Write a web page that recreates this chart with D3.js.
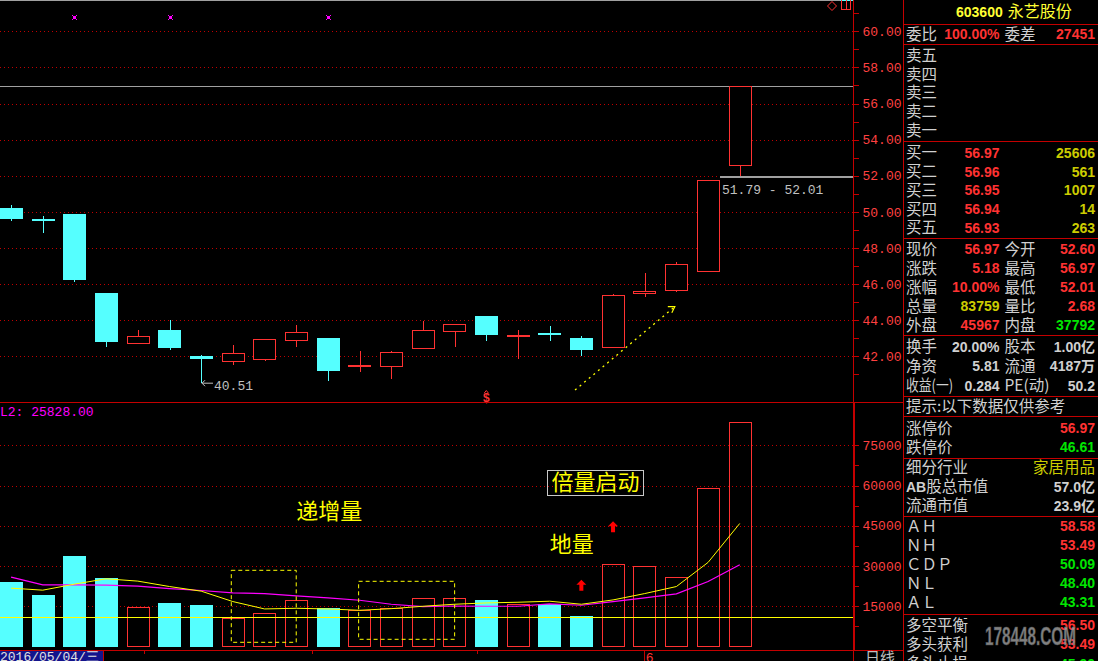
<!DOCTYPE html>
<html><head><meta charset="utf-8">
<script src="https://cdn.jsdelivr.net/npm/d3@7/dist/d3.min.js"></script>
<style>
html,body{margin:0;padding:0;background:#000;overflow:hidden}
svg{display:block}
</style></head><body>
<svg id="chart" width="1098" height="661"></svg>
<script>
// ================= DATA =================
const dates = ['2016-05-04','2016-05-05','2016-05-06','2016-05-09','2016-05-10','2016-05-11','2016-05-12','2016-05-13',
  '2016-05-16','2016-05-17','2016-05-18','2016-05-19','2016-05-20','2016-05-23','2016-05-24','2016-05-25','2016-05-26',
  '2016-05-27','2016-05-30','2016-05-31','2016-06-01','2016-06-02','2016-06-03','2016-06-06'];
const openP  = [50.21,49.58,49.88,45.50,42.75,43.46,42.02,41.76,41.87,42.92,43.01,41.46,41.48,42.48,43.42,44.23,43.16,43.30,43.01,42.50,45.49,45.65,46.71,52.60];
const highP  = [50.38,49.77,49.88,45.50,43.46,44.01,42.07,42.63,42.94,43.73,43.01,42.29,42.29,43.95,43.80,44.23,43.46,43.68,43.12,45.43,46.61,47.20,51.79,56.97];
const lowP   = [49.49,48.84,46.13,42.53,42.75,42.37,40.51,41.53,41.76,42.53,40.65,41.15,40.76,42.40,42.53,42.86,41.87,42.86,42.03,42.50,45.27,45.54,46.71,52.01];
const closeP = [49.60,49.55,46.24,42.81,43.12,42.48,41.87,42.17,42.94,43.33,41.19,41.50,42.22,43.44,43.77,43.18,43.20,43.27,42.37,45.38,45.62,47.09,51.79,56.97];
const volume = [24100,19240,33860,25610,14630,16240,15490,10730,12375,17250,14250,13730,14250,18000,18000,17360,15860,15700,11360,30750,30110,25870,59250,83759];
const volMA5  = [21750,21000,23250,25240,24375,22350,20625,16750,14000,14250,14000,13500,14100,15000,15750,16240,16500,16875,15750,17360,19730,22350,31350,45860];
const volMA10 = [25875,23000,23000,22870,22500,21600,20870,19990,19740,18860,18110,17250,15750,14870,15100,15000,15000,15860,15370,16740,18110,19610,24240,30490];
const priceTicks = [42,44,46,48,50,52,54,56,58,60];
const volTicks = [15000,30000,45000,60000,75000];
const volRefLevel = 10950;
const todayHigh = 56.97;
const gapLow = 51.79, gapHigh = 52.01;
const lowestPrice = 40.51;
const eventIdx = [2,5,10];
const dollarIdx = 15;
const monthStartIdx = 20;
const monthLabel = '6';
const dateTickPos = [4.2,9.5,14.7];
const cursorDate = '2016/05/04/三';
const mavolLabel = 'L2: 25828.00';

// quote panel
const stockTitleCode = '603600', stockTitleName = '永艺股份';
const prevClose = 51.79;
const weibi = '100.00%', weicha = '27451';
const sellLabels = ['卖五','卖四','卖三','卖二','卖一'];
const buyLabels = ['买一','买二','买三','买四','买五'];
const buyPrices = [56.97,56.96,56.95,56.94,56.93];
const buyVols = [25606,561,1007,14,263];
const quoteLabelsL = ['现价','涨跌','涨幅','总量','外盘'];
const quoteValuesL = ['56.97','5.18','10.00%','83759','45967'];
const quoteKindL   = ['up','up','up','vol','up'];
const quoteLabelsR = ['今开','最高','最低','量比','内盘'];
const quoteValuesR = ['52.60','56.97','52.01','2.68','37792'];
const quoteKindR   = ['up','up','up','up','down'];
const finLabelsL = ['换手','净资','收益(一)'];
const finValuesL = ['20.00%','5.81','0.284'];
const finLabelsR = ['股本','流通','PE(动)'];
const finValuesR = ['1.00亿','4187万','50.2'];
const tipText = '提示:以下数据仅供参考';
const limitLabels = ['涨停价','跌停价'];
const limitValues = [56.97,46.61];
const infoLabels = ['细分行业','股总市值','流通市值'];
const infoValues = ['家居用品','57.0亿','23.9亿'];
const pivotLabels = ['ＡＨ','ＮＨ','ＣＤＰ','ＮＬ','ＡＬ'];
const pivotValues = [58.58,53.49,50.09,48.40,43.31];
const balLabels = ['多空平衡','多头获利','多头止损'];
const balValues = [56.50,53.49,45.90];

// ================= DRAW =================
const RED='#ff3232', CYAN='#55ffff', AXR='#c40000', GRID='#c00000', LBL='#ff4040',
      YEL='#ffff00', MAG='#ff00ff', GRAY='#c0c0c0', WHITE='#d0d0d0', DYEL='#cccc00', GRN='#00e600';
const MONO='"Liberation Mono","DejaVu Sans Mono",monospace';
const SANS='"Liberation Sans","Noto Sans CJK SC",sans-serif';
const CJK='"Noto Sans CJK SC","Noto Sans",sans-serif';

const svg = d3.select('#chart');
svg.append('rect').attr('width',1098).attr('height',661).attr('fill','#000');
const plotR = 853, panelL = 903;

const x = d3.scaleBand().domain(dates).range([-4.74,755.6]).paddingInner(0.29).paddingOuter(0.145);
const xc = d => x(d) + x.bandwidth()/2;
const xi = d3.scaleLinear().domain([0,dates.length-1]).range([xc(dates[0]), xc(dates[dates.length-1])]);
const yP = d3.scaleLinear().domain([42,60]).range([356.3,31.3]);
const yV = d3.scaleLinear().domain([0,75000]).range([646.5,445.3]);
const bw = Math.round(x.bandwidth());
const snap = v => Math.round(v) + 0.5;

const candles = dates.map((d,i)=>({d,i,o:openP[i],h:highP[i],l:lowP[i],c:closeP[i],v:volume[i],up:closeP[i]>=openP[i]}));

// --- frame lines ---
const frame = svg.append('g').attr('shape-rendering','crispEdges');
frame.append('line').attr('x1',0).attr('x2',plotR).attr('y1',0.5).attr('y2',0.5).attr('stroke','#a0a0a0');
frame.append('line').attr('x1',840).attr('x2',plotR).attr('y1',0.5).attr('y2',0.5).attr('stroke',CYAN);

// gridlines
svg.append('g').attr('shape-rendering','crispEdges').selectAll('line').data(priceTicks).join('line')
  .attr('x1',0).attr('x2',plotR).attr('y1',d=>snap(yP(d))).attr('y2',d=>snap(yP(d)))
  .attr('stroke',GRID).attr('stroke-dasharray','1,3');
svg.append('g').attr('shape-rendering','crispEdges').selectAll('line').data(volTicks).join('line')
  .attr('x1',0).attr('x2',plotR).attr('y1',d=>snap(yV(d))).attr('y2',d=>snap(yV(d)))
  .attr('stroke',GRID).attr('stroke-dasharray','1,3');

// today high line and gap
svg.append('line').attr('x1',0).attr('x2',plotR).attr('y1',snap(yP(todayHigh))).attr('y2',snap(yP(todayHigh)))
  .attr('stroke','#a0a0a0').attr('shape-rendering','crispEdges');
const gapStart = Math.round(x(dates[22]) + bw) + 1;
svg.append('line').attr('x1',gapStart).attr('x2',plotR).attr('y1',Math.round(yP(gapHigh))+1).attr('y2',Math.round(yP(gapHigh))+1)
  .attr('stroke','#a0a0a0').attr('stroke-width',2).attr('shape-rendering','crispEdges');
svg.append('text').attr('x',gapStart+2).attr('y',yP(gapHigh)+18).attr('fill',GRAY)
  .style('font',`13px ${MONO}`).text(`${gapLow.toFixed(2)} - ${gapHigh.toFixed(2)}`);

// --- candles ---
const cg = svg.append('g').attr('shape-rendering','crispEdges');
candles.forEach(k=>{
  const col = k.up ? RED : CYAN;
  const cx = Math.round(xc(k.d)) + 0.5;
  cg.append('line').attr('x1',cx).attr('x2',cx).attr('y1',Math.round(yP(k.h))).attr('y2',Math.round(yP(k.l))).attr('stroke',col);
  const x0 = Math.round(x(k.d));
  if (k.up) {
    const yt = Math.round(yP(k.c)), yb = Math.round(yP(k.o));
    cg.append('rect').attr('x',x0+0.5).attr('y',yt+0.5).attr('width',bw).attr('height',Math.max(1,yb-yt))
      .attr('fill','#000').attr('stroke',RED).attr('stroke-width',1.2);
  } else {
    const yt = Math.round(yP(k.o)), yb = Math.round(yP(k.c));
    cg.append('rect').attr('x',x0).attr('y',yt).attr('width',bw+1).attr('height',Math.max(2,yb-yt)).attr('fill',CYAN);
  }
});

// lowest price annotation
{
  const i = lowP.indexOf(lowestPrice);
  const lx = Math.round(xc(dates[i])) + 1, ly = yP(lowestPrice);
  svg.append('path').attr('d',`M${lx},${ly} L${lx+11},${ly} M${lx+3},${ly-3} L${lx},${ly} L${lx+3},${ly+3}`)
    .attr('stroke',GRAY).attr('fill','none');
  svg.append('text').attr('x',lx+12).attr('y',ly+7).attr('fill',GRAY).style('font',`13px ${MONO}`).text(lowestPrice.toFixed(2));
}

// event markers at top
eventIdx.forEach(i=>{
  const cx = Math.round(xc(dates[i])), cy = 17;
  const g = svg.append('g').attr('fill',MAG).attr('shape-rendering','crispEdges');
  g.append('rect').attr('x',cx-1).attr('y',cy-1).attr('width',3).attr('height',3);
  [[-2,-2],[2,-2],[-2,2],[2,2]].forEach(([dx,dy])=>g.append('rect').attr('x',cx+dx).attr('y',cy+dy).attr('width',1).attr('height',1));
});

// dollar marker
{
  const cx = xc(dates[dollarIdx]);
  svg.append('path').attr('d',`M${cx-2},393 L${cx},390.5 L${cx+2},393`).attr('stroke',RED).attr('fill','none');
  svg.append('text').attr('x',cx).attr('y',401.5).attr('text-anchor','middle').attr('fill',RED)
    .style('font',`bold 12px ${SANS}`).text('$');
}

// dotted trend arrow
{
  const x1 = xi(17.8), y1 = yP(40.13), x2 = xi(20.95), y2 = yP(44.75);
  svg.append('line').attr('x1',x1).attr('y1',y1).attr('x2',x2).attr('y2',y2)
    .attr('stroke',YEL).attr('stroke-width',1.3).attr('stroke-dasharray','2,4');
  svg.append('path').attr('d',`M${x2-7},${y2} L${x2},${y2} L${x2-3},${y2+6}`).attr('stroke',YEL).attr('stroke-width',1.2).attr('fill','none');
}

// top-right icons
svg.append('path').attr('d','M832,1.5 L836.5,6 L832,10.5 L827.5,6 Z').attr('stroke',RED).attr('fill','none');
svg.append('path').attr('d','M841.5,0 V9.5 H850.5 V0 M846.5,0 V9.5').attr('stroke',RED).attr('fill','none').attr('shape-rendering','crispEdges');

// --- axes ---
const pa = svg.append('g').attr('transform',`translate(${plotR+0.5},0)`)
  .call(d3.axisRight(yP).tickValues(d3.range(41,62,1)).tickSize(5).tickPadding(4)
    .tickFormat(d => d%2===0 ? d.toFixed(2) : ''));
pa.select('.domain').remove();
pa.selectAll('line').attr('stroke',AXR).attr('shape-rendering','crispEdges');
pa.selectAll('text').attr('fill',LBL).style('font',`13px ${MONO}`);

const va = svg.append('g').attr('transform',`translate(${plotR+0.5},0)`)
  .call(d3.axisRight(yV).tickValues(d3.range(7500,82500,7500)).tickSize(5).tickPadding(4)
    .tickFormat(d => d%15000===0 ? String(d) : ''));
va.select('.domain').remove();
va.selectAll('line').attr('stroke',AXR).attr('shape-rendering','crispEdges');
va.selectAll('text').attr('fill',LBL).style('font',`13px ${MONO}`);

// --- volume ---
const vg = svg.append('g').attr('shape-rendering','crispEdges');
candles.forEach(k=>{
  const x0 = Math.round(x(k.d));
  const yt = Math.round(yV(k.v)), yb = Math.round(yV(0));
  if (k.up) vg.append('rect').attr('x',x0+0.5).attr('y',yt+0.5).attr('width',bw).attr('height',yb-yt-1).attr('fill','none').attr('stroke',RED).attr('stroke-width',1.2);
  else vg.append('rect').attr('x',x0).attr('y',yt).attr('width',bw+1).attr('height',yb-yt).attr('fill',CYAN);
});
svg.append('line').attr('x1',0).attr('x2',plotR).attr('y1',snap(yV(volRefLevel))).attr('y2',snap(yV(volRefLevel)))
  .attr('stroke',YEL).attr('shape-rendering','crispEdges');
const maLine = d3.line().x((d,i)=>xi(i)).y(d=>yV(d));
svg.append('path').attr('d',maLine(volMA10)).attr('stroke',MAG).attr('fill','none').attr('stroke-width',1.2);
svg.append('path').attr('d',maLine(volMA5)).attr('stroke',YEL).attr('fill','none').attr('stroke-width',1);

svg.append('text').attr('x',0).attr('y',415.5).attr('fill',MAG).style('font',`13px ${MONO}`).text(mavolLabel);

// volume annotations
const dashBox = (i0,i1,v0,v1)=> svg.append('rect').attr('x',xi(i0)).attr('y',yV(v0)).attr('width',xi(i1)-xi(i0)).attr('height',yV(v1)-yV(v0))
  .attr('fill','none').attr('stroke',YEL).attr('stroke-dasharray','4,3');
dashBox(6.95,9,28400,1565);
dashBox(10.97,14,24300,2680);
const annoText = (t,i,v,anchor)=> svg.append('text').attr('x',xi(i)).attr('y',yV(v)).attr('dy','0.36em').attr('text-anchor',anchor||'start')
  .attr('fill',YEL).style('font',`22px ${CJK}`).text(t);
annoText('递增量',9,50510);
annoText('地量',17,38210);
svg.append('rect').attr('x',Math.round(xi(16.93))+0.5).attr('y',Math.round(yV(65700))+0.5)
  .attr('width',Math.round(xi(19.97)-xi(16.93))).attr('height',Math.round(yV(56560)-yV(65700)))
  .attr('fill','none').attr('stroke','#c8c8c8').attr('shape-rendering','crispEdges');
annoText('倍量启动',18.45,61130,'middle');
const upArrow = (i,v)=>{
  const cx = xi(i), cy = yV(v);
  svg.append('path').attr('d',`M${cx},${cy-6} L${cx+5},${cy-1} L${cx+2},${cy-1} L${cx+2},${cy+5} L${cx-2},${cy+5} L${cx-2},${cy-1} L${cx-5},${cy-1} Z`)
    .attr('fill','#ff0000');
};
upArrow(18,22660);
upArrow(19,44430);

// --- frame/separators ---
const fr = svg.append('g').attr('stroke',AXR).attr('shape-rendering','crispEdges');
fr.append('line').attr('x1',0).attr('x2',panelL).attr('y1',402.5).attr('y2',402.5);
fr.append('line').attr('x1',0).attr('x2',panelL).attr('y1',650.5).attr('y2',650.5);
fr.append('line').attr('x1',plotR+0.5).attr('x2',plotR+0.5).attr('y1',0).attr('y2',661);
fr.append('line').attr('x1',plotR+1.5).attr('x2',plotR+1.5).attr('y1',402).attr('y2',651);
fr.append('line').attr('x1',panelL+0.5).attr('x2',panelL+0.5).attr('y1',0).attr('y2',661);

// date axis
svg.append('rect').attr('x',0).attr('y',651).attr('width',103).attr('height',10).attr('fill','#14148c');
svg.append('line').attr('x1',103.5).attr('x2',103.5).attr('y1',650).attr('y2',661).attr('stroke',AXR).attr('shape-rendering','crispEdges');
svg.append('text').attr('x',0).attr('y',661).attr('fill','#e0e0e0').style('font',`13px ${MONO}`).text(cursorDate);
svg.append('g').selectAll('line').data(dateTickPos).join('line')
  .attr('x1',d=>snap(xi(d))).attr('x2',d=>snap(xi(d))).attr('y1',651).attr('y2',654).attr('stroke',AXR).attr('shape-rendering','crispEdges');
svg.append('line').attr('x1',snap(xi(monthStartIdx))-1).attr('x2',snap(xi(monthStartIdx))-1).attr('y1',651).attr('y2',661).attr('stroke',AXR).attr('shape-rendering','crispEdges');
svg.append('text').attr('x',xi(monthStartIdx)+1).attr('y',662).attr('fill',RED).style('font',`13px ${MONO}`).text(monthLabel);
svg.append('text').attr('x',865).attr('y',663).attr('fill',GRAY).style('font',`15px ${CJK}`).text('日线');

// ================= QUOTE PANEL =================
const qp = svg.append('g');
const LX = 906, V1 = 999.5, L2 = 1004.5, V2 = 1095;
const colorOf = (kind,val)=> kind==='vol' ? DYEL : kind==='down' ? GRN : kind==='plain' ? WHITE :
  kind==='cmp' ? (val>prevClose ? RED : val<prevClose ? GRN : WHITE) : RED;
const cjk = (t,xx,yy,fill,anchor)=> qp.append('text').attr('x',xx).attr('y',yy).attr('dy','0.36em').attr('text-anchor',anchor||'start')
  .attr('fill',fill||WHITE).style('font',`15.5px ${CJK}`).text(t);
const num = (t,xx,yy,fill)=> qp.append('text').attr('x',xx).attr('y',yy).attr('dy','0.36em').attr('text-anchor','end')
  .attr('fill',fill).style('font',`bold 14px ${SANS}`).text(t);

// separators
qp.append('g').selectAll('line').data([24.5,44.5,141.5,238.5,335.5,396.5,416.5,458.5,516.5,614.5]).join('line')
  .attr('x1',panelL).attr('x2',1098).attr('y1',d=>d).attr('y2',d=>d).attr('stroke',AXR).attr('shape-rendering','crispEdges');

// title
{
  const t = qp.append('text').attr('x',956).attr('y',11.7).attr('dy','0.36em').attr('fill','#ffff33');
  t.append('tspan').style('font',`bold 14px ${SANS}`).text(stockTitleCode);
  t.append('tspan').style('font',`16px ${CJK}`).attr('dx',5).text(stockTitleName);
}
// weibi
cjk('委比',LX,34.3); num(weibi,V1,34.3,RED); cjk('委差',L2,34.3); num(weicha,V2,34.3,RED);
sellLabels.forEach((s,i)=>cjk(s,LX,55.3+i*18.7));
buyLabels.forEach((s,i)=>{
  const yy = 152.7+i*18.8;
  cjk(s,LX,yy); num(buyPrices[i].toFixed(2),V1,yy,colorOf('cmp',buyPrices[i])); num(String(buyVols[i]),V2,yy,DYEL);
});
quoteLabelsL.forEach((s,i)=>{
  const yy = 249+i*19;
  cjk(s,LX,yy); num(quoteValuesL[i],V1,yy,colorOf(quoteKindL[i]));
  cjk(quoteLabelsR[i],L2,yy); num(quoteValuesR[i],V2,yy,colorOf(quoteKindR[i]));
});
finLabelsL.forEach((s,i)=>{
  const yy = 346.7+i*19.5;
  const lab = cjk(s,LX,yy);
  if (s.length > 2) lab.attr('textLength',47).attr('lengthAdjust','spacingAndGlyphs');
  num(finValuesL[i],V1,yy,WHITE);
  cjk(finLabelsR[i],L2,yy); num(finValuesR[i],V2,yy,WHITE);
});
cjk(tipText,LX,406.7);
limitLabels.forEach((s,i)=>{ const yy=428.3+i*19; cjk(s,LX,yy); num(limitValues[i].toFixed(2),V2,yy,colorOf('cmp',limitValues[i])); });
infoLabels.forEach((s,i)=>{
  const yy = 467.7+i*19;
  if (i===1) {
    const t = qp.append('text').attr('x',LX).attr('y',yy).attr('dy','0.36em').attr('fill',WHITE);
    t.append('tspan').style('font',`bold 14px ${SANS}`).text('AB');
    t.append('tspan').style('font',`15.5px ${CJK}`).text(s);
  } else cjk(s,LX,yy);
  if (i===0) cjk(infoValues[i],V2,yy,DYEL,'end');
  else num(infoValues[i],V2,yy,WHITE);
});
pivotLabels.forEach((s,i)=>{ const yy=526+i*19.1; cjk(s,LX,yy); num(pivotValues[i].toFixed(2),V2,yy,colorOf('cmp',pivotValues[i])); });
balLabels.forEach((s,i)=>{ const yy=625+i*19.3; cjk(s,LX,yy); num(balValues[i].toFixed(2),V2,yy,colorOf('cmp',balValues[i])); });

// watermark
qp.append('text').attr('x',985).attr('y',645).attr('textLength',91).attr('lengthAdjust','spacingAndGlyphs')
  .attr('fill','#9a9a9a').attr('fill-opacity',0.85).attr('stroke','#505050').attr('stroke-width',0.6)
  .style('font',`bold 26px ${SANS}`).text('178448.COM');
</script>
</body></html>
